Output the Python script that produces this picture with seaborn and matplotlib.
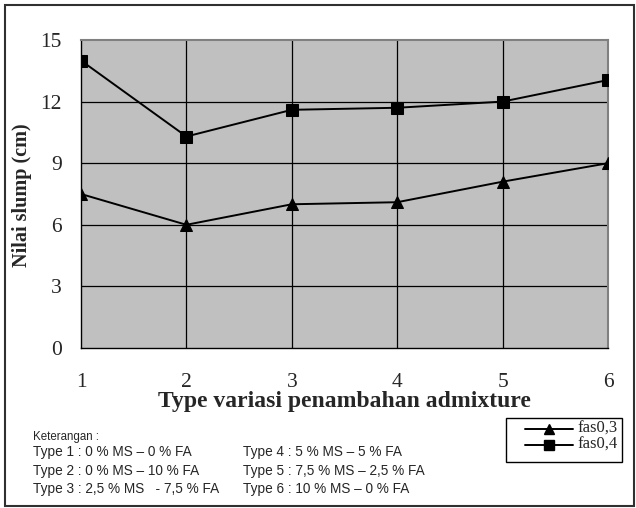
import matplotlib
matplotlib.use("Agg")
import matplotlib.pyplot as plt
import seaborn as sns
import pandas as pd
from matplotlib.patches import Rectangle

types = [1, 2, 3, 4, 5, 6]
fas03 = [7.5, 6.0, 7.0, 7.1, 8.1, 9.0]
fas04 = [14.0, 10.3, 11.6, 11.7, 12.0, 13.05]
series_names = ["fas 0,3", "fas 0,4"]
y_ticks = [0, 3, 6, 9, 12, 15]
keterangan = ["Type 1 : 0 % MS – 0 % FA", "Type 2 : 0 % MS – 10 % FA", "Type 3 : 2,5 % MS   - 7,5 % FA"]
keterangan2 = ["Type 4 : 5 % MS – 5 % FA", "Type 5 : 7,5 % MS – 2,5 % FA", "Type 6 : 10 % MS – 0 % FA"]

df = pd.DataFrame({
    "Type": types * 2,
    "Slump": fas03 + fas04,
    "Seri": [series_names[0]] * 6 + [series_names[1]] * 6,
})

sns.set_style("white")
serif = ["Liberation Serif", "DejaVu Serif"]
sansn = ["Liberation Sans", "DejaVu Sans"]

fig = plt.figure(figsize=(6.36, 5.08), dpi=100)
W, H = 636, 508
ax = fig.add_axes([81 / W, 1 - 348 / H, (608 - 81) / W, (348 - 40) / H])
ax.set_facecolor("#c0c0c0")

sns.lineplot(data=df, x="Type", y="Slump", hue="Seri", style="Seri",
             markers={series_names[0]: "^", series_names[1]: "s"},
             dashes=False, palette=["black", "black"], markersize=8,
             linewidth=1.4, markeredgecolor="black", ax=ax, legend=False, zorder=5)

ax.set_xlim(1, 6)
ax.set_ylim(0, 15)
ax.set_yticks(y_ticks)
ax.set_xticks(types)
for y in y_ticks[1:-1]:
    ax.axhline(y, color="black", lw=0.9, zorder=1)
for x in types[1:-1]:
    ax.axvline(x, color="black", lw=0.9, zorder=1)

for s in ["top", "right"]:
    ax.spines[s].set_color("#808080")
    ax.spines[s].set_linewidth(1.5)
for s in ["left", "bottom"]:
    ax.spines[s].set_color("black")
    ax.spines[s].set_linewidth(1.0)

ax.tick_params(axis="both", direction="out", length=5, width=0.9, color="black",
               labelsize=15.5, pad=9)
ax.tick_params(axis="x", pad=13)
for lab in ax.get_xticklabels() + ax.get_yticklabels():
    lab.set_family(serif)

ax.set_xlabel("")
ax.set_ylabel("")
fig.text(22 / W, 1 - 195 / H, "Nilai slump (cm)", rotation=90, ha="center", va="center",
         family=serif, fontsize=14.5, fontweight="bold")
fig.text(344 / W, 1 - 401 / H, "Type variasi penambahan admixture", ha="center", va="center",
         family=serif, fontsize=17, fontweight="bold")

# legend box
fig.add_artist(Rectangle((506 / W, 1 - 462 / H), 116 / W, 44 / H, transform=fig.transFigure,
                         fill=False, edgecolor="black", lw=1.0))
for i, (name, mk) in enumerate(zip(series_names, ["^", "s"])):
    yy = 1 - (429 + 16 * i) / H
    fig.add_artist(plt.Line2D([525 / W, 573 / W], [yy, yy], transform=fig.transFigure,
                              color="black", lw=1.4))
    fig.add_artist(plt.Line2D([549 / W], [yy], transform=fig.transFigure,
                              color="black", marker=mk, markersize=7, lw=0))
    fig.text(577 / W, yy, name.replace(" ", ""), ha="left", va="center",
             family=serif, fontsize=12)

fig.text(33 / W, 1 - 437 / H, "Keterangan :", ha="left", va="center", family=sansn, fontsize=8.3)
for i, (a, b) in enumerate(zip(keterangan, keterangan2)):
    yy = 1 - (452 + 18.5 * i) / H
    fig.text(33 / W, yy, a, ha="left", va="center", family=sansn, fontsize=9.8)
    fig.text(243 / W, yy, b, ha="left", va="center", family=sansn, fontsize=9.8)

# outer frame
fig.add_artist(Rectangle((5 / W, 1 - 506 / H), 629 / W, 501 / H, transform=fig.transFigure,
                         fill=False, edgecolor="#303030", lw=1.5, zorder=10))

fig.savefig("out.png", dpi=100)
